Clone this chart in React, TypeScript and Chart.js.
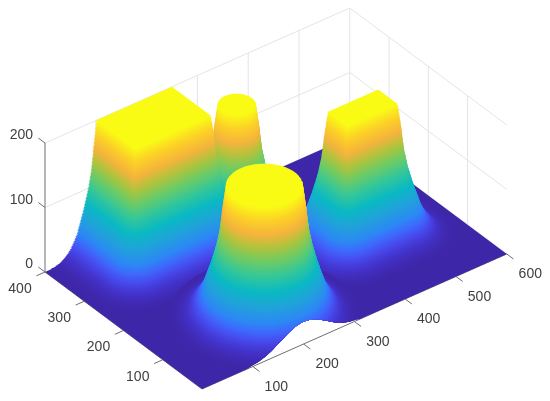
import React, { useEffect, useRef } from "react";
import { Chart, registerables } from "chart.js";

Chart.register(...registerables);

const xTicks = [100, 200, 300, 400, 500, 600];
const yTicks = [100, 200, 300, 400];
const zTicks = [0, 100, 200];

// Height of the surface against distance outside each plateau's edge.
const wallZ = [1, 2, 3, 4, 5, 6, 7, 8, 9, 10, 11, 12, 14, 16, 18, 20, 22, 24, 26, 28, 30, 32, 34, 36, 38, 40, 42, 44, 46, 48, 50, 52, 54, 56, 58, 60, 62, 64, 66, 68, 70, 72, 74, 76, 78, 80, 82, 84, 86, 88, 90, 92, 94, 96, 98, 100, 102, 104, 106, 108, 110, 112, 114, 116, 118, 120, 122, 124, 126, 128, 130, 132, 134, 136, 138, 140, 142, 144, 146, 148, 150, 152, 154, 156, 158, 160, 162, 164, 166, 168, 170, 172, 174, 176, 178, 180, 182, 184, 186, 188, 190, 192, 194, 196, 198, 200];
const wallD = [88, 80, 75.5, 72, 69, 67, 65, 63, 61.5, 60, 58.7, 57.5, 55.4, 53.5, 51.7, 50, 48.3, 46.8, 45.4, 44, 42.8, 41.6, 40.3, 39, 38, 37.2, 36.4, 35.6, 34.8, 34, 33.3, 32.6, 31.8, 31, 30.2, 29.5, 28.8, 28, 27.2, 26.5, 25.7, 25, 24.4, 23.8, 23.1, 22.5, 21.9, 21.3, 20.6, 20, 19.4, 18.8, 18.2, 17.6, 17, 16.4, 15.8, 15.2, 14.8, 14.4, 14, 13.5, 13, 12.6, 12.2, 11.8, 11.3, 10.9, 10.4, 10, 9.7, 9.5, 9.2, 8.9, 8.6, 8.4, 8.1, 7.9, 7.6, 7.3, 7, 6.8, 6.6, 6.4, 6.2, 6, 5.7, 5.4, 5.1, 4.8, 4.5, 4.2, 3.9, 3.6, 3.3, 3, 2.7, 2.4, 2.1, 1.8, 1.5, 1.2, 0.9, 0.6, 0.3, 0];

// Plateaus: [xMin, xMax, yMin, yMax] and [xCentre, yCentre, radius]
const backDisc = [300, 300, 30];
const rightBlock = [400, 500, 148, 198];
const leftBlock = [100, 250, 300, 400];
const frontDisc = [200, 100, 60];

const xDomain = [0, 600];
const yDomain = [0, 400];
const zDomain = [0, 200];

const colormapT = [0, 0.05, 0.1, 0.15, 0.2, 0.3, 0.4, 0.5, 0.6, 0.7, 0.8, 0.9, 1];
const colormapR = [62, 68, 71, 62, 45, 33, 10, 50, 105, 172, 245, 252, 249];
const colormapG = [38, 52, 75, 105, 135, 162, 185, 198, 203, 196, 180, 208, 251];
const colormapB = [168, 205, 238, 252, 245, 218, 195, 155, 105, 62, 60, 40, 21];

const colorAt = (z: number) => {
  const t = Math.max(0, Math.min(1, z / zDomain[1]));
  let i = 0;
  while (i < colormapT.length - 2 && t > colormapT[i + 1]) i++;
  const f = (t - colormapT[i]) / (colormapT[i + 1] - colormapT[i]);
  const mix = (a: number[]) => Math.round(a[i] + (a[i + 1] - a[i]) * f);
  return `rgb(${mix(colormapR)},${mix(colormapG)},${mix(colormapB)})`;
};

const project = (x: number, y: number, z: number) => ({
  x: 202 + 0.508 * x - 0.3925 * y,
  y: 389 - 0.225 * x - 0.2925 * y - 0.645 * z,
});

const clampXY = (x: number, y: number) => [
  Math.max(xDomain[0], Math.min(xDomain[1], x)),
  Math.max(yDomain[0], Math.min(yDomain[1], y)),
];

// Height of the wall table at a distance d outside a plateau.
const wallHeightAt = (d: number) => {
  if (d <= 0) return zDomain[1];
  if (d >= wallD[0]) return 0;
  let i = wallD.length - 1;
  while (i > 0 && wallD[i - 1] < d) i--;
  const f = (d - wallD[i]) / (wallD[i - 1] - wallD[i]);
  return wallZ[i] + (wallZ[i - 1] - wallZ[i]) * f;
};

// The front disc's skirt runs off the y = 0 edge, so that edge is lifted.
const frontEdgeZ = (x: number) =>
  wallHeightAt(Math.hypot(x - frontDisc[0], yDomain[0] - frontDisc[1]) - frontDisc[2]);

const ARC_STEPS = 144;
const discLayer = (b: number[], d: number, z: number) => {
  const pts = [];
  for (let k = 0; k <= ARC_STEPS; k++) {
    const a = (k / ARC_STEPS) * 2 * Math.PI;
    const rawY = b[1] + (b[2] + d) * Math.sin(a);
    const [x, y] = clampXY(b[0] + (b[2] + d) * Math.cos(a), rawY);
    const lift = rawY < yDomain[0] ? Math.max(z, frontEdgeZ(x)) : z;
    pts.push(project(x, y, lift));
  }
  return pts;
};

const blockLayer = (b: number[], d: number, z: number) => {
  const pts = [];
  const corners = [
    [b[1], b[3], 0],
    [b[0], b[3], 90],
    [b[0], b[2], 180],
    [b[1], b[2], 270],
  ];
  for (const [cx, cy, start] of corners) {
    for (let k = 0; k <= 12; k++) {
      const a = ((start + (k / 12) * 90) * Math.PI) / 180;
      const [x, y] = clampXY(cx + d * Math.cos(a), cy + d * Math.sin(a));
      pts.push(project(x, y, z));
    }
  }
  pts.push(pts[0]);
  return pts;
};

const polyDataset = (data: { x: number; y: number }[], color: string) => ({
  data,
  showLine: true,
  fill: "shape",
  backgroundColor: color,
  borderColor: color,
  borderWidth: 0,
  pointRadius: 0,
  tension: 0,
});

const lineDataset = (data: { x: number; y: number }[], color: string, width: number) => ({
  data,
  showLine: true,
  fill: false,
  borderColor: color,
  borderWidth: width,
  pointRadius: 0,
  tension: 0,
});

const GRID = "#e4e4e6";
const AXIS = "#6e6e6e";
const TICK_LEN = 17;
const TEXT = "#404040";

const buildDatasets = () => {
  const [x0, x1] = xDomain;
  const [y0, y1] = yDomain;
  const zMax = zDomain[1];
  const sets: any[] = [];

  // back walls
  for (const z of zTicks) {
    sets.push(lineDataset([project(x0, y1, z), project(x1, y1, z), project(x1, y0, z)], GRID, 1));
  }
  for (const x of xTicks) sets.push(lineDataset([project(x, y1, 0), project(x, y1, zMax)], GRID, 1));
  for (const y of yTicks) {
    if (y !== y1) sets.push(lineDataset([project(x1, y, 0), project(x1, y, zMax)], GRID, 1));
  }

  // axes and ticks
  sets.push(lineDataset([project(x0, y1, 0), project(x0, y1, zMax)], AXIS, 1));
  sets.push(lineDataset([project(x0, y0, 0), project(x1, y0, 0)], AXIS, 1));
  sets.push(lineDataset([project(x0, y0, 0), project(x0, y1, 0)], AXIS, 1));
  for (const x of xTicks) sets.push(lineDataset([project(x, y0, 0), project(x, y0 - TICK_LEN, 0)], AXIS, 1));
  for (const y of yTicks) sets.push(lineDataset([project(x0, y, 0), project(x0 - TICK_LEN, y, 0)], AXIS, 1));
  for (const z of zTicks) sets.push(lineDataset([project(x0, y1, z), project(x0, y1 + TICK_LEN, z)], AXIS, 1));

  // floor, whose near edge rises over the front disc's skirt
  const floor = [];
  for (let x = x0; x <= x1; x += 5) floor.push(project(x, y0, frontEdgeZ(x)));
  floor.push(project(x1, y1, 0), project(x0, y1, 0), project(x0, y0, 0));
  sets.push(polyDataset(floor, colorAt(0)));

  // plateaus, far to near, each painted from its foot to its top
  const paint = (fn: (b: number[], d: number, z: number) => any[], b: number[]) => {
    wallZ.forEach((z, i) => sets.push(polyDataset(fn(b, wallD[i], z), colorAt(z))));
  };
  paint(discLayer, backDisc);
  paint(blockLayer, rightBlock);
  paint(blockLayer, leftBlock);
  paint(discLayer, frontDisc);

  return sets.reverse();
};

const tickLabels = {
  id: "tickLabels",
  afterDraw(chart: any) {
    const { ctx, scales } = chart;
    const put = (text: string, p: { x: number; y: number }, dx: number, dy: number, align: CanvasTextAlign) => {
      ctx.textAlign = align;
      ctx.fillText(text, scales.x.getPixelForValue(p.x) + dx, scales.y.getPixelForValue(p.y) + dy);
    };
    ctx.save();
    ctx.font = '14px "Liberation Sans"';
    ctx.fillStyle = TEXT;
    ctx.textBaseline = "middle";
    for (const x of xTicks) put(String(x), project(x, yDomain[0], 0), 23.5, 20.5, "center");
    for (const y of yTicks) put(String(y), project(xDomain[0], y, 0), -25, 17, "center");
    for (const z of zTicks) put(String(z), project(xDomain[0], yDomain[1], z), -12, -7.5, "right");
    ctx.restore();
  },
};

export default function App() {
  const ref = useRef<HTMLCanvasElement | null>(null);
  useEffect(() => {
    document.body.style.margin = "0";
    document.body.style.background = "#ffffff";
    const chart = new Chart(ref.current as HTMLCanvasElement, {
      type: "scatter",
      data: { datasets: buildDatasets() },
      plugins: [tickLabels],
      options: {
        animation: false,
        responsive: false,
        events: [],
        layout: { padding: 0 },
        scales: {
          x: { type: "linear", min: 0, max: 550, display: false },
          y: { type: "linear", min: 0, max: 401, reverse: true, display: false },
        },
        plugins: { legend: { display: false }, tooltip: { enabled: false }, title: { display: false } },
      },
    } as any);
    return () => chart.destroy();
  }, []);
  return (
    <div style={{ width: 550, height: 401, position: "relative", overflow: "hidden" }}>
      <canvas
        ref={ref}
        width={550}
        height={401}
        style={{ display: "block", width: 550, height: 401, filter: "blur(0.4px)" }}
      />
    </div>
  );
}
